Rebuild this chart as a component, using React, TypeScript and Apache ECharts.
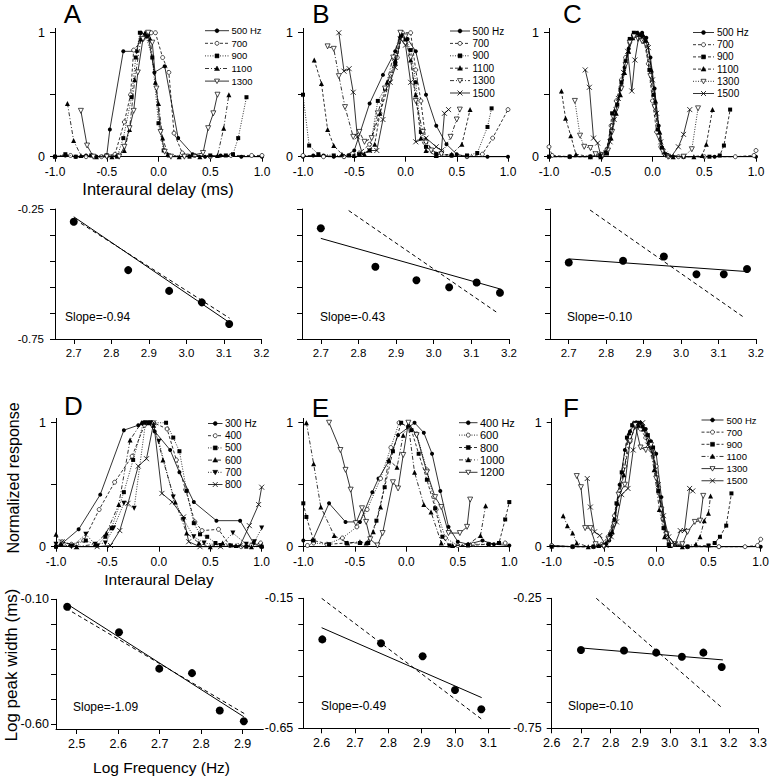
import React, { useEffect, useRef } from 'react';
import * as echarts from 'echarts';

const FONT = '"Liberation Sans", Arial, Helvetica, sans-serif';

// ---------- tick values ----------
const delayTicks = [-1, -0.5, 0, 0.5, 1];
const respTicks = [0, 0.5, 1];
const respLabels = [0, 1];
const freqTicksRow1 = [2.7, 2.8, 2.9, 3.0, 3.1, 3.2];
const freqTicksD = [2.5, 2.6, 2.7, 2.8, 2.9];
const freqTicksE = [2.6, 2.7, 2.8, 2.9, 3.0, 3.1];
const freqTicksF = [2.6, 2.7, 2.8, 2.9, 3.0, 3.1, 3.2, 3.3];
const widthTicks75 = [-0.75, -0.65, -0.55, -0.45, -0.35, -0.25];
const widthLabels75 = [-0.75, -0.25];
const widthTicksD = [-0.6, -0.5, -0.4, -0.3, -0.2, -0.1];
const widthLabelsD = [-0.6, -0.1];
const widthTicksE = [-0.65, -0.55, -0.45, -0.35, -0.25, -0.15];
const widthLabelsE = [-0.65, -0.15];

// ---------- legend labels ----------
const legendA = ['500 Hz', '700', '900', '1100', '1300'];
const legendB = ['500 Hz', '700', '900', '1100', '1300', '1500'];
const legendC = ['500 Hz', '700', '900', '1100', '1300', '1500'];
const legendD = ['300 Hz', '400', '500', '600', '700', '800'];
const legendE = ['400 Hz', '600', '800', '1000', '1200'];
const legendF = ['500 Hz', '700', '900', '1100', '1300', '1500'];

// ---------- tuning curves: [interaural delay (ms), normalized response] ----------
const a500 = [[-1,0],[-0.9,0.01],[-0.8,0],[-0.7,0.01],[-0.6,0],[-0.5,0.01],[-0.47,0.22],[-0.34,0.85],[-0.21,0.85],[-0.17,1],[-0.1,0.98],[-0.04,0.68],[0.06,0.73],[0.19,0.15],[0.33,0.02],[0.45,0],[0.6,0.01],[0.8,0],[1,0]];
const a700 = [[-1,0],[-0.85,0.01],[-0.7,0],[-0.55,0],[-0.42,0.02],[-0.33,0.28],[-0.27,0.5],[-0.24,0.86],[-0.15,0.95],[-0.07,1],[-0.03,1],[0.04,0.8],[0.1,0.68],[0.15,0.19],[0.23,0.03],[0.35,0.01],[0.5,0],[0.7,0.01],[0.9,0.01],[1,0.01]];
const a900 = [[-1,0],[-0.9,0.02],[-0.8,0],[-0.65,0.01],[-0.5,0.01],[-0.4,0],[-0.34,0.15],[-0.26,0.48],[-0.22,0.8],[-0.18,1],[-0.12,0.97],[-0.06,0.8],[0,0.27],[0.05,0.05],[0.1,0.01],[0.3,0],[0.5,0.01],[0.65,0.01],[0.72,0.02],[0.77,0.15],[0.85,0.48]];
const a1100 = [[-0.88,0.43],[-0.82,0.13],[-0.75,0.01],[-0.6,0],[-0.45,0],[-0.33,0.05],[-0.28,0.22],[-0.23,0.62],[-0.17,0.95],[-0.13,1],[-0.08,0.95],[-0.03,0.6],[0,0.43],[0.04,0.15],[0.09,0.02],[0.2,0],[0.4,0],[0.57,0.01],[0.63,0.23],[0.68,0.5]];
const a1300 = [[-0.75,0.37],[-0.69,0.09],[-0.63,0],[-0.5,0],[-0.38,0],[-0.33,0.08],[-0.28,0.23],[-0.24,0.37],[-0.2,0.68],[-0.15,0.95],[-0.1,1],[-0.06,0.92],[-0.02,0.55],[0.02,0.2],[0.06,0.04],[0.12,0],[0.25,0],[0.43,0.03],[0.48,0.23],[0.53,0.35],[0.57,0.5]];

const b500 = [[-1,0],[-0.9,0.01],[-0.8,0.01],[-0.7,0],[-0.6,0],[-0.5,0.05],[-0.35,0.43],[-0.22,0.66],[-0.1,0.85],[-0.04,1],[0.02,0.95],[0.1,0.85],[0.2,0.5],[0.3,0.25],[0.4,0.1],[0.5,0.02],[0.6,0],[0.8,0],[1,0]];
const b700 = [[-1,0.01],[-0.8,0],[-0.6,0],[-0.45,0.03],[-0.35,0.1],[-0.25,0.35],[-0.15,0.62],[-0.08,0.8],[-0.03,1],[0.05,1],[0.1,0.7],[0.15,0.45],[0.2,0.12],[0.3,0.02],[0.45,0.01],[0.6,0],[0.75,0.02],[0.85,0.15],[1,0.38]];
const b900 = [[-1,0.5],[-0.94,0.09],[-0.85,0.02],[-0.7,0.01],[-0.55,0.01],[-0.45,0.02],[-0.35,0.05],[-0.27,0.45],[-0.2,0.55],[-0.1,0.75],[-0.04,0.98],[0,0.95],[0.05,0.86],[0.1,0.6],[0.15,0.2],[0.2,0.08],[0.3,0.02],[0.45,0.01],[0.6,0.01],[0.7,0.03],[0.8,0.24],[0.84,0.39]];
const b1100 = [[-0.89,0.78],[-0.82,0.59],[-0.76,0.22],[-0.7,0.09],[-0.62,0.02],[-0.5,0.01],[-0.4,0.02],[-0.3,0.1],[-0.25,0.35],[-0.18,0.6],[-0.1,0.78],[-0.05,0.98],[0,0.95],[0.05,0.78],[0.1,0.5],[0.15,0.15],[0.2,0.05],[0.3,0.01],[0.45,0.02],[0.55,0.1],[0.63,0.38]];
const b1300 = [[-0.76,0.89],[-0.7,0.87],[-0.65,0.65],[-0.59,0.4],[-0.51,0.16],[-0.45,0.2],[-0.4,0.12],[-0.33,0.15],[-0.27,0.35],[-0.2,0.55],[-0.12,0.8],[-0.05,1],[0,0.97],[0.05,0.8],[0.1,0.45],[0.17,0.2],[0.25,0.05],[0.35,0.02],[0.44,0.16],[0.5,0.3],[0.53,0.38]];
const b1500 = [[-0.65,1],[-0.6,0.69],[-0.55,0.71],[-0.51,0.52],[-0.47,0.16],[-0.42,0.02],[-0.35,0.05],[-0.28,0.05],[-0.22,0.3],[-0.15,0.6],[-0.1,0.72],[-0.05,0.95],[0,0.9],[0.05,0.6],[0.1,0.12],[0.2,0.15],[0.3,0.08],[0.35,0.05],[0.38,0.35],[0.42,0.38]];

const c500 = [[-1,0],[-0.8,0],[-0.6,0],[-0.5,0.01],[-0.45,0.04],[-0.4,0.2],[-0.36,0.37],[-0.31,0.55],[-0.27,0.72],[-0.23,0.87],[-0.19,0.98],[-0.15,1],[-0.1,1],[-0.06,0.96],[-0.02,0.8],[0.02,0.55],[0.06,0.25],[0.1,0.06],[0.15,0.01],[0.3,0],[0.6,0],[1,0]];
const c700 = [[-1,0.08],[-0.97,0.01],[-0.8,0],[-0.6,0],[-0.5,0.02],[-0.44,0.06],[-0.4,0.25],[-0.35,0.45],[-0.3,0.62],[-0.26,0.8],[-0.22,0.92],[-0.17,0.98],[-0.12,0.97],[-0.08,0.93],[-0.04,0.75],[0,0.45],[0.04,0.2],[0.08,0.08],[0.12,0.02],[0.25,0],[0.5,0],[0.8,0],[0.98,0.01],[1,0.05]];
const c900 = [[-1,0],[-0.8,0],[-0.6,0],[-0.5,0.01],[-0.44,0.03],[-0.39,0.35],[-0.34,0.42],[-0.3,0.6],[-0.26,0.77],[-0.22,0.95],[-0.18,1],[-0.12,0.98],[-0.07,0.93],[-0.03,0.7],[0.01,0.5],[0.05,0.22],[0.09,0.07],[0.14,0.01],[0.3,0],[0.55,0],[0.65,0.01],[0.69,0.09],[0.75,0.38]];
const c1100 = [[-0.88,0.53],[-0.84,0.31],[-0.79,0.17],[-0.74,0.02],[-0.6,0],[-0.5,0],[-0.45,0.03],[-0.4,0.15],[-0.35,0.35],[-0.31,0.5],[-0.27,0.68],[-0.23,0.85],[-0.19,0.96],[-0.14,1],[-0.09,0.98],[-0.05,0.92],[-0.01,0.7],[0.03,0.45],[0.07,0.2],[0.11,0.04],[0.2,0],[0.4,0],[0.48,0.01],[0.52,0.1],[0.58,0.38]];
const c1300 = [[-0.75,0.45],[-0.7,0.17],[-0.66,0.08],[-0.6,0.07],[-0.55,0.02],[-0.48,0.01],[-0.43,0.05],[-0.39,0.2],[-0.35,0.38],[-0.3,0.55],[-0.26,0.74],[-0.22,0.92],[-0.18,0.97],[-0.14,0.95],[-0.1,0.93],[-0.06,0.9],[-0.02,0.65],[0.02,0.4],[0.06,0.16],[0.1,0.04],[0.15,0],[0.3,0],[0.38,0.06],[0.44,0.39]];
const c1500 = [[-0.65,0.7],[-0.61,0.56],[-0.57,0.15],[-0.53,0.11],[-0.5,0.01],[-0.45,0.03],[-0.41,0.12],[-0.37,0.3],[-0.33,0.47],[-0.28,0.68],[-0.24,0.85],[-0.2,0.53],[-0.17,0.78],[-0.13,0.98],[-0.08,0.95],[-0.04,0.88],[0,0.62],[0.04,0.35],[0.08,0.12],[0.12,0.02],[0.18,0],[0.25,0.08],[0.3,0.18],[0.36,0.38]];

const d300 = [[-1,0],[-0.95,0.02],[-0.78,0.14],[-0.57,0.42],[-0.34,0.94],[-0.2,0.98],[-0.1,1],[-0.04,0.93],[0.11,0.78],[0.2,0.6],[0.34,0.36],[0.56,0.21],[0.79,0.21],[0.92,0.03],[1,0]];
const d400 = [[-0.94,0.04],[-0.85,0.02],[-0.73,0.05],[-0.58,0.3],[-0.43,0.52],[-0.26,0.73],[-0.14,0.98],[-0.05,1],[0.08,0.95],[0.17,0.7],[0.26,0.46],[0.35,0.2],[0.42,0.13],[0.58,0.14],[0.69,0.01],[0.8,0],[0.9,0.01],[0.99,0.03]];
const d500 = [[-1,0],[-0.85,0.01],[-0.71,0.05],[-0.6,0.01],[-0.52,0.08],[-0.46,0.15],[-0.34,0.44],[-0.25,0.7],[-0.15,1],[-0.1,1],[0.07,1],[0.14,0.88],[0.2,0.77],[0.27,0.45],[0.34,0.19],[0.4,0.1],[0.47,0.08],[0.55,0.03],[0.7,0.01],[0.85,0],[1,0]];
const d600 = [[-1,0.1],[-0.95,0.02],[-0.8,0],[-0.62,0.02],[-0.51,0.11],[-0.39,0.34],[-0.28,0.86],[-0.17,1],[-0.1,1],[-0.05,0.98],[0.04,0.7],[0.16,0.36],[0.27,0.11],[0.39,0.03],[0.5,0],[0.62,0.03],[0.75,0.01],[0.9,0],[1,0.01]];
const d700 = [[-1,0.02],[-0.85,0],[-0.71,0.1],[-0.62,0.02],[-0.52,0.03],[-0.44,0.15],[-0.34,0.35],[-0.24,0.31],[-0.13,1],[-0.08,1],[0,0.85],[0.14,0.4],[0.24,0.22],[0.34,0.08],[0.44,0.03],[0.6,0.01],[0.72,0.11],[0.85,0.02],[0.93,0.04],[1,0.15]];
const d800 = [[-0.94,0.04],[-0.8,0],[-0.6,0],[-0.47,0.01],[-0.38,0.13],[-0.3,0.35],[-0.2,0.65],[-0.12,0.71],[-0.05,1],[0.03,0.43],[0.13,0.36],[0.24,0.24],[0.29,0.04],[0.4,0],[0.6,0],[0.79,0.01],[0.88,0.17],[0.97,0.34],[1,0.48]];

const e400 = [[-1,0.05],[-0.91,0.05],[-0.75,0.35],[-0.59,0.2],[-0.45,0.2],[-0.33,0.44],[-0.27,0.55],[-0.17,0.69],[-0.08,0.9],[0.08,1],[0.17,0.92],[0.25,0.75],[0.33,0.45],[0.41,0.16],[0.5,0.04],[0.6,0.02],[0.74,0.05],[0.85,0.02],[1,0.01]];
const e600 = [[-0.96,0.01],[-0.9,0.03],[-0.77,0.02],[-0.62,0.07],[-0.48,0.16],[-0.38,0.3],[-0.25,0.55],[-0.15,0.8],[-0.07,1],[0.02,0.97],[0.1,0.91],[0.2,0.62],[0.29,0.3],[0.38,0.07],[0.5,0.01],[0.65,0.02],[0.8,0.02],[0.96,0.03]];
const e800 = [[-1,0.35],[-0.97,0.24],[-0.9,0.05],[-0.75,0.02],[-0.58,0.03],[-0.45,0.03],[-0.37,0.03],[-0.29,0.21],[-0.21,0.48],[-0.13,0.77],[-0.05,1],[0.05,0.94],[0.12,0.75],[0.2,0.54],[0.28,0.31],[0.35,0.08],[0.42,0.01],[0.6,0.01],[0.8,0.02],[0.9,0.03],[0.96,0.22],[1,0.36]];
const e1000 = [[-0.97,1],[-0.9,0.67],[-0.83,0.32],[-0.7,0.09],[-0.57,0.03],[-0.45,0.04],[-0.39,0.03],[-0.32,0.12],[-0.25,0.32],[-0.17,0.7],[-0.09,0.64],[-0.03,0.9],[0.02,0.98],[0.08,0.6],[0.17,0.34],[0.24,0.28],[0.34,0.03],[0.45,0.01],[0.6,0.02],[0.72,0.09],[0.77,0.33]];
const e1200 = [[-0.75,1],[-0.64,0.78],[-0.59,0.62],[-0.54,0.46],[-0.49,0.19],[-0.43,0.31],[-0.39,0.2],[-0.35,0.06],[-0.28,0.01],[-0.23,0.11],[-0.13,0.52],[-0.08,0.47],[-0.03,0.74],[0.02,1],[0.1,0.9],[0.2,0.6],[0.28,0.4],[0.34,0.32],[0.41,0.11],[0.52,0.11],[0.59,0.16],[0.62,0.38]];

const f500 = [[-1,0.01],[-0.8,0],[-0.6,0],[-0.5,0.01],[-0.45,0.05],[-0.4,0.22],[-0.35,0.5],[-0.3,0.78],[-0.25,0.93],[-0.2,1],[-0.15,1],[-0.1,0.95],[-0.05,0.85],[0,0.75],[0.05,0.4],[0.1,0.1],[0.15,0.01],[0.3,0],[0.6,0],[1,0]];
const f700 = [[-1,0.01],[-0.8,0],[-0.6,0],[-0.52,0.02],[-0.46,0.08],[-0.4,0.25],[-0.35,0.45],[-0.3,0.65],[-0.25,0.85],[-0.2,0.97],[-0.15,0.95],[-0.1,0.88],[-0.05,0.78],[0,0.65],[0.05,0.3],[0.1,0.08],[0.15,0.01],[0.3,0],[0.6,0],[0.85,0],[0.97,0.01],[1,0.06]];
const f900 = [[-1,0],[-0.8,0],[-0.6,0],[-0.5,0.01],[-0.44,0.1],[-0.38,0.35],[-0.33,0.6],[-0.28,0.88],[-0.23,0.98],[-0.18,1],[-0.13,0.97],[-0.08,0.9],[-0.03,0.8],[0.02,0.45],[0.07,0.15],[0.12,0.02],[0.3,0],[0.5,0.01],[0.56,0.03],[0.61,0.08],[0.67,0.17],[0.72,0.43]];
const f1100 = [[-0.89,0.25],[-0.85,0.17],[-0.8,0.11],[-0.76,0.03],[-0.65,0],[-0.55,0.01],[-0.48,0.03],[-0.42,0.12],[-0.37,0.35],[-0.31,0.58],[-0.26,0.92],[-0.22,1],[-0.17,0.98],[-0.12,0.95],[-0.07,0.85],[-0.02,0.62],[0.03,0.3],[0.08,0.08],[0.13,0.01],[0.25,0],[0.38,0.02],[0.42,0.08],[0.46,0.21],[0.5,0.27],[0.52,0.41]];
const f1300 = [[-0.76,0.57],[-0.72,0.48],[-0.68,0.15],[-0.63,0.15],[-0.58,0.02],[-0.5,0],[-0.45,0.06],[-0.4,0.18],[-0.36,0.42],[-0.3,0.5],[-0.25,0.85],[-0.2,0.98],[-0.15,0.8],[-0.1,0.78],[-0.05,0.82],[0,0.55],[0.05,0.3],[0.1,0.1],[0.18,0.02],[0.25,0.02],[0.3,0.12],[0.37,0.2],[0.42,0.21],[0.45,0.41]];
const f1500 = [[-0.66,0.55],[-0.63,0.32],[-0.59,0.12],[-0.54,0.09],[-0.48,0.01],[-0.43,0.08],[-0.38,0.2],[-0.33,0.42],[-0.27,0.47],[-0.22,0.78],[-0.17,1],[-0.13,1],[-0.08,0.82],[-0.03,0.75],[0.02,0.5],[0.07,0.25],[0.12,0.08],[0.18,0.02],[0.23,0.13],[0.27,0.13],[0.32,0.47],[0.35,0.45]];

// ---------- peak width vs frequency (log units) ----------
const logFreqA = [2.70, 2.845, 2.954, 3.041, 3.114];
const logWidthA = [-0.299, -0.485, -0.565, -0.609, -0.692];
const fitA = [[2.70, -0.28], [3.115, -0.687]];
const refA = [[2.719, -0.305], [3.115, -0.67]];

const logFreqB = [2.70, 2.845, 2.954, 3.041, 3.114, 3.176];
const logWidthB = [-0.324, -0.472, -0.524, -0.551, -0.533, -0.572];
const fitB = [[2.70, -0.363], [3.18, -0.559]];
const refB = [[2.774, -0.256], [3.169, -0.649]];

const logFreqC = [2.70, 2.845, 2.954, 3.041, 3.114, 3.176];
const logWidthC = [-0.456, -0.449, -0.433, -0.501, -0.501, -0.481];
const fitC = [[2.70, -0.442], [3.18, -0.491]];
const refC = [[2.757, -0.254], [3.169, -0.668]];

const logFreqD = [2.477, 2.602, 2.699, 2.778, 2.845, 2.903];
const logWidthD = [-0.130, -0.232, -0.378, -0.396, -0.546, -0.589];
const fitD = [[2.474, -0.116], [2.903, -0.571]];
const refD = [[2.474, -0.136], [2.907, -0.561]];

const logFreqE = [2.602, 2.778, 2.903, 3.0, 3.079];
const logWidthE = [-0.308, -0.323, -0.373, -0.503, -0.577];
const fitE = [[2.60, -0.263], [3.08, -0.532]];
const refE = [[2.60, -0.15], [3.08, -0.615]];

const logFreqF = [2.699, 2.845, 2.954, 3.041, 3.114, 3.176];
const logWidthF = [-0.449, -0.451, -0.459, -0.475, -0.459, -0.514];
const fitF = [[2.70, -0.441], [3.18, -0.487]];
const refF = [[2.751, -0.25], [3.173, -0.667]];

const slopeA = 'Slope=-0.94';
const slopeB = 'Slope=-0.43';
const slopeC = 'Slope=-0.10';
const slopeD = 'Slope=-1.09';
const slopeE = 'Slope=-0.49';
const slopeF = 'Slope=-0.10';

// ---------- styles ----------
const DASH: Record<string, number[] | null> = {
  solid: null,
  dashed: [3, 2],
  dotted: [1, 1.5],
  dashdot: [4, 2, 1, 2],
};

const stylesA = [['solid','dot'],['dashed','ocircle'],['dotted','square'],['dashdot','tri'],['solid','otri']];
const stylesB = [['solid','dot'],['dashed','ocircle'],['dotted','square'],['dashed','tri'],['dashdot','otri'],['solid','x']];
const stylesC = [['solid','dot'],['dashed','ocircle'],['dashed','square'],['dashed','tri'],['dotted','otri'],['solid','x']];
const stylesD = [['solid','dot'],['dashed','ocircle'],['dotted','square'],['dashdot','tri'],['dotted','dtri'],['solid','x']];
const stylesE = [['solid','dot'],['dotted','ocircle'],['dashed','square'],['dashdot','tri'],['solid','otri']];
const stylesF = [['solid','dot'],['dashed','ocircle'],['dashed','square'],['dashdot','tri'],['solid','otri'],['solid','x']];

const DOWN_TRI = 'path://M0,0L10,0L5,9Z';
const CROSS = 'path://M0,0L10,10M10,0L0,10';

function markerOpts(mk: string): any {
  const filled = { color: '#000', borderColor: '#000', borderWidth: 0, opacity: 1 };
  const open = { color: '#fff', borderColor: '#000', borderWidth: 0.7, opacity: 1 };
  switch (mk) {
    case 'dot': return { symbol: 'circle', symbolSize: 4, itemStyle: filled };
    case 'ocircle': return { symbol: 'circle', symbolSize: 4, itemStyle: open };
    case 'square': return { symbol: 'rect', symbolSize: 4, itemStyle: filled };
    case 'tri': return { symbol: 'triangle', symbolSize: 5, itemStyle: filled };
    case 'otri': return { symbol: DOWN_TRI, symbolSize: 5, itemStyle: open };
    case 'dtri': return { symbol: DOWN_TRI, symbolSize: 5, itemStyle: filled };
    default: return { symbol: CROSS, symbolSize: 5, itemStyle: { color: 'none', borderColor: '#000', borderWidth: 0.8, opacity: 1 } };
  }
}

function markerGraphic(mk: string, cx: number, cy: number): any[] {
  const st = { fill: '#000', stroke: '#000', lineWidth: 0.5 };
  const ost = { fill: '#fff', stroke: '#000', lineWidth: 0.7 };
  switch (mk) {
    case 'dot': return [{ type: 'circle', shape: { cx, cy, r: 2 }, style: st }];
    case 'ocircle': return [{ type: 'circle', shape: { cx, cy, r: 2 }, style: ost }];
    case 'square': return [{ type: 'rect', shape: { x: cx - 2, y: cy - 2, width: 4, height: 4 }, style: st }];
    case 'tri': return [{ type: 'polygon', shape: { points: [[cx, cy - 2.5], [cx + 2.5, cy + 2], [cx - 2.5, cy + 2]] }, style: st }];
    case 'otri': return [{ type: 'polygon', shape: { points: [[cx, cy + 2.5], [cx + 2.5, cy - 2], [cx - 2.5, cy - 2]] }, style: ost }];
    case 'dtri': return [{ type: 'polygon', shape: { points: [[cx, cy + 2.5], [cx + 2.5, cy - 2], [cx - 2.5, cy - 2]] }, style: st }];
    default: return [
      { type: 'line', shape: { x1: cx - 2.5, y1: cy - 2.5, x2: cx + 2.5, y2: cy + 2.5 }, style: { stroke: '#000', lineWidth: 0.8 } },
      { type: 'line', shape: { x1: cx - 2.5, y1: cy + 2.5, x2: cx + 2.5, y2: cy - 2.5 }, style: { stroke: '#000', lineWidth: 0.8 } },
    ];
  }
}

// ---------- panel layouts ----------
const tuningPanels = [
  { grid: { left: 55, top: 28.4, width: 207, height: 128.3 }, curves: [a500, a700, a900, a1100, a1300], styles: stylesA, labels: legendA,
    legend: { x1: 205, x2: 229, tx: 231.5, y0: 30.7, dy: 12.6, fs: 9.5 }, letter: { t: 'A', x: 72.5, y: 14 } },
  { grid: { left: 303, top: 28.4, width: 205, height: 128.3 }, curves: [b500, b700, b900, b1100, b1300, b1500], styles: stylesB, labels: legendB,
    legend: { x1: 450, x2: 470, tx: 472.5, y0: 31, dy: 12.4, fs: 10 }, letter: { t: 'B', x: 321, y: 14 } },
  { grid: { left: 549, top: 28.4, width: 207, height: 128.3 }, curves: [c500, c700, c900, c1100, c1300, c1500], styles: stylesC, labels: legendC,
    legend: { x1: 693, x2: 714, tx: 717, y0: 32.5, dy: 12.2, fs: 10 }, letter: { t: 'C', x: 572.5, y: 14 } },
  { grid: { left: 56, top: 418.4, width: 205.7, height: 128.3 }, curves: [d300, d400, d500, d600, d700, d800], styles: stylesD, labels: legendD,
    legend: { x1: 208, x2: 222.5, tx: 225, y0: 423.5, dy: 12.2, fs: 10 }, letter: { t: 'D', x: 73.5, y: 406 } },
  { grid: { left: 303.3, top: 418.4, width: 206, height: 128.3 }, curves: [e400, e600, e800, e1000, e1200], styles: stylesE, labels: legendE,
    legend: { x1: 459, x2: 477.5, tx: 480, y0: 422.7, dy: 12.4, fs: 11 }, letter: { t: 'E', x: 320.5, y: 407.5 } },
  { grid: { left: 551.7, top: 418.4, width: 209, height: 128.3 }, curves: [f500, f700, f900, f1100, f1300, f1500], styles: stylesF, labels: legendF,
    legend: { x1: 701.5, x2: 723.5, tx: 726.5, y0: 420, dy: 12.15, fs: 9.5 }, letter: { t: 'F', x: 571, y: 407.5 } },
];

const scatterPanels = [
  { grid: { left: 55, top: 209, width: 206.5, height: 130 }, xMin: 2.65, xMax: 3.2, xTicks: freqTicksRow1, yMin: -0.75, yMax: -0.25,
    yTicks: widthTicks75, yLabels: widthLabels75, xs: logFreqA, ys: logWidthA, fit: fitA, ref: refA, slope: slopeA, sx: 65, sy: 317, fs: 11.5, ylm: 11 },
  { grid: { left: 302, top: 209, width: 207, height: 130 }, xMin: 2.65, xMax: 3.2, xTicks: freqTicksRow1, yMin: -0.75, yMax: -0.25,
    yTicks: widthTicks75, yLabels: [], xs: logFreqB, ys: logWidthB, fit: fitB, ref: refB, slope: slopeB, sx: 320, sy: 317, fs: 11.5, ylm: 11 },
  { grid: { left: 550, top: 209, width: 206, height: 130 }, xMin: 2.65, xMax: 3.2, xTicks: freqTicksRow1, yMin: -0.75, yMax: -0.25,
    yTicks: widthTicks75, yLabels: [], xs: logFreqC, ys: logWidthC, fit: fitC, ref: refC, slope: slopeC, sx: 567, sy: 317, fs: 11.5, ylm: 11 },
  { grid: { left: 56, top: 599.3, width: 207.3, height: 129.7 }, xMin: 2.45, xMax: 2.95, xTicks: freqTicksD, yMin: -0.62, yMax: -0.1,
    yTicks: widthTicksD, yLabels: widthLabelsD, xs: logFreqD, ys: logWidthD, fit: fitD, ref: refD, slope: slopeD, sx: 73, sy: 707, fs: 12.5, ylm: 7 },
  { grid: { left: 303.3, top: 598.3, width: 206.7, height: 130 }, xMin: 2.545, xMax: 3.165, xTicks: freqTicksE, yMin: -0.65, yMax: -0.15,
    yTicks: widthTicksE, yLabels: widthLabelsE, xs: logFreqE, ys: logWidthE, fit: fitE, ref: refE, slope: slopeE, sx: 321, sy: 706, fs: 12.5, ylm: 10 },
  { grid: { left: 551.7, top: 598.3, width: 206.6, height: 130 }, xMin: 2.6, xMax: 3.3, xTicks: freqTicksF, yMin: -0.75, yMax: -0.25,
    yTicks: widthTicks75, yLabels: widthLabels75, xs: logFreqF, ys: logWidthF, fit: fitF, ref: refF, slope: slopeF, sx: 568, sy: 706, fs: 12.5, ylm: 10 },
];

function axis(gridIndex: number, min: number, max: number, ticks: number[], labels: number[], fmt: (v: number) => string,
  fontSize: number, margin: number) {
  return {
    type: 'value', gridIndex, min, max,
    axisLine: { show: true, onZero: false, lineStyle: { color: '#000', width: 1 } },
    axisTick: { show: true, inside: false, length: 5, customValues: ticks, lineStyle: { color: '#000', width: 1 } },
    axisLabel: labels.length
      ? { show: true, customValues: labels, formatter: fmt, fontSize, margin, color: '#000', fontFamily: FONT }
      : { show: false },
    splitLine: { show: false },
  };
}

function buildOption() {
  const xAxes: any[] = [];
  const yAxes: any[] = [];
  const series: any[] = [];
  const graphics: any[] = [];

  const txt = (t: string, x: number, y: number, fs: number, align = 'center', rotation = 0) => ({
    type: 'text', x, y, rotation, silent: true, z: 100,
    style: { text: t, font: `${fs}px ${FONT}`, fill: '#000', align, verticalAlign: 'middle' },
  });

  // grid indices: 0-2 tuning top, 3-5 scatter row1, 6-8 tuning bottom, 9-11 scatter row2
  const tuningIdx = [0, 1, 2, 6, 7, 8];
  const scatterIdx = [3, 4, 5, 9, 10, 11];
  const allGrids: any[] = new Array(12);

  tuningPanels.forEach((p, k) => {
    const gi = tuningIdx[k];
    allGrids[gi] = { ...p.grid, containLabel: false, outerBoundsMode: 'none' };
    xAxes[gi] = axis(gi, -1, 1, delayTicks, delayTicks, (v: number) => v.toFixed(1), 12, 9);
    yAxes[gi] = axis(gi, 0, 1.035, respTicks, respLabels, (v: number) => String(v), 12.5, 10);
    p.curves.forEach((c, j) => {
      const [lt, mk] = p.styles[j];
      series.push({
        type: 'line', xAxisIndex: gi, yAxisIndex: gi, data: c, silent: true, clip: false,
        showSymbol: true, ...markerOpts(mk),
        lineStyle: { color: '#000', width: 0.8, type: lt === 'solid' ? 'solid' : DASH[lt] },
        z: 2 + j,
      });
      const y = p.legend.y0 + j * p.legend.dy;
      graphics.push({ type: 'line', silent: true, z: 100, shape: { x1: p.legend.x1, y1: y, x2: p.legend.x2, y2: y },
        style: { stroke: '#000', lineWidth: 0.8, lineDash: DASH[lt] } });
      markerGraphic(mk, (p.legend.x1 + p.legend.x2) / 2, y).forEach((g) => graphics.push({ ...g, silent: true, z: 101 }));
      graphics.push(txt(p.labels[j], p.legend.tx, y, p.legend.fs, 'left'));
    });
    graphics.push(txt(p.letter.t, p.letter.x, p.letter.y, 26));
  });

  scatterPanels.forEach((p, k) => {
    const gi = scatterIdx[k];
    allGrids[gi] = { ...p.grid, containLabel: false, outerBoundsMode: 'none' };
    xAxes[gi] = axis(gi, p.xMin, p.xMax, p.xTicks, p.xTicks, (v: number) => v.toFixed(1), p.fs, 8);
    yAxes[gi] = axis(gi, p.yMin, p.yMax, p.yTicks, p.yLabels, (v: number) => v.toFixed(2), p.fs, p.ylm);
    series.push({
      type: 'line', xAxisIndex: gi, yAxisIndex: gi, data: p.ref, symbol: 'none', silent: true,
      lineStyle: { color: '#000', width: 1, type: [4, 3] }, z: 2,
    });
    series.push({
      type: 'line', xAxisIndex: gi, yAxisIndex: gi, data: p.fit, symbol: 'none', silent: true,
      lineStyle: { color: '#000', width: 1, type: 'solid' }, z: 3,
    });
    series.push({
      type: 'scatter', xAxisIndex: gi, yAxisIndex: gi, data: p.xs.map((x, i) => [x, p.ys[i]]),
      symbol: 'circle', symbolSize: 8, itemStyle: { color: '#000', opacity: 1 }, silent: true, z: 4,
    });
    graphics.push(txt(p.slope, p.sx, p.sy, 12, 'left'));
  });

  graphics.push(txt('Interaural delay (ms)', 158, 189, 16.5));
  graphics.push(txt('Interaural Delay', 159, 579, 15.5));
  graphics.push(txt('Normalized response', 13, 478, 16, 'center', Math.PI / 2));
  graphics.push(txt('Log peak width (ms)', 11, 665, 17, 'center', Math.PI / 2));
  graphics.push(txt('Log Frequency (Hz)', 161.5, 767, 15.5));

  return {
    animation: false,
    backgroundColor: '#fff',
    textStyle: { fontFamily: FONT, color: '#000' },
    grid: allGrids,
    xAxis: xAxes,
    yAxis: yAxes,
    series,
    graphic: { elements: graphics },
  };
}

export default function App() {
  const ref = useRef<HTMLDivElement>(null);
  useEffect(() => {
    if (!ref.current) return;
    const chart = echarts.init(ref.current, null, { renderer: 'svg' });
    chart.setOption(buildOption() as any);
    return () => chart.dispose();
  }, []);
  return <div ref={ref} style={{ position: 'fixed', left: 0, top: 0, width: 772, height: 782, background: '#fff' }} />;
}
